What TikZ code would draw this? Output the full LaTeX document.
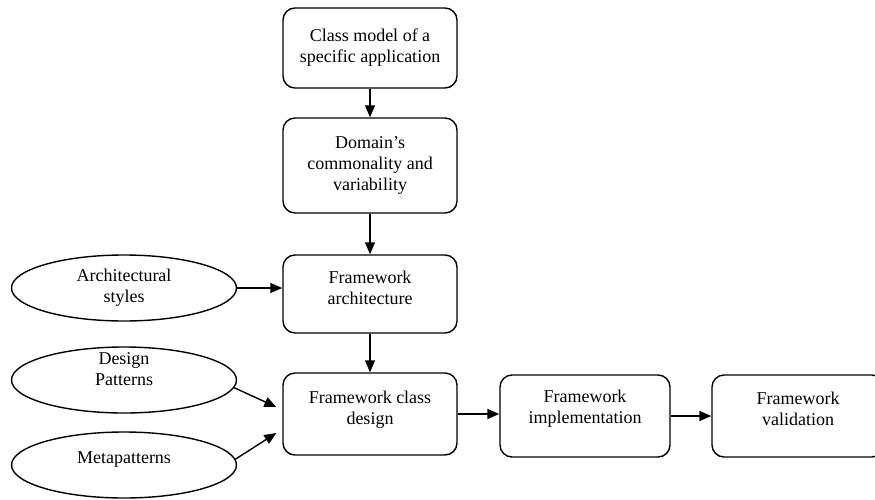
\documentclass[tikz,border=0pt]{standalone}
\usepackage{fontspec}
\setmainfont{Liberation Serif}
\usetikzlibrary{arrows.meta,shapes.geometric}
\begin{document}
\begin{tikzpicture}[x=1pt,y=-1pt,
  every node/.style={font=\fontsize{18}{21}\selectfont, align=center, inner sep=0pt},
  stagebox/.style={draw, line width=1.4pt, rounded corners=12pt, minimum width=174pt},
  source/.style={draw, ellipse, line width=1.4pt, minimum width=225pt, minimum height=66pt},
  flow/.style={line width=1.4pt, -{Triangle[length=12pt,width=10pt]}}]
  \useasboundingbox (0,0) rectangle (875,499);
  % main process chain
  \node[stagebox, minimum height=80pt] (cm) at (370,48) {Class model of a\\specific application};
  \node[stagebox, minimum height=95pt] (dv) at (370,165.5) {Domain's\\commonality and\\variability};
  \node[stagebox, minimum height=78pt] (fa) at (370,294) {};
  \node (fat) at (370,288) {Framework\\architecture};
  \node[stagebox, minimum height=82pt] (fd) at (370,414) {};
  \node (fdt) at (370,410) {Framework class\\design};
  \node[stagebox, minimum height=82pt, minimum width=170pt] (fi) at (585,416) {};
  \node (fit) at (585,409) {Framework\\implementation};
  \node[stagebox, minimum height=82pt, minimum width=172pt] (fv) at (798,416) {};
  \node (fvt) at (798,409) {Framework\\validation};
  % inputs
  \node[source] (as) at (124,288) {};
  \node (ast) at (124,288) {Architectural\\styles};
  \node[source] (dp) at (124,380) {};
  \node (dpt) at (124,369) {Design\\Patterns};
  \node[source] (mp) at (124,465) {};
  \node (mpt) at (124,460) {Metapatterns};
  % connectors
  \draw[flow] (cm.south) -- (dv.north);
  \draw[flow] (dv.south) -- (fa.north);
  \draw[flow] (fa.south) -- (fd.north);
  \draw[flow] (as.east) -- (as.east -| fa.west);
  \draw[flow] (dp.-4) -- ([xshift=-6pt,yshift=7pt]fd.west);
  \draw[flow] (mp.3) -- ([xshift=-6pt,yshift=-19pt]fd.west);
  \draw[flow] (fd.east) -- (fd.east -| fi.west);
  \draw[flow] (fi.east) -- (fi.east -| fv.west);
\end{tikzpicture}
\end{document}
